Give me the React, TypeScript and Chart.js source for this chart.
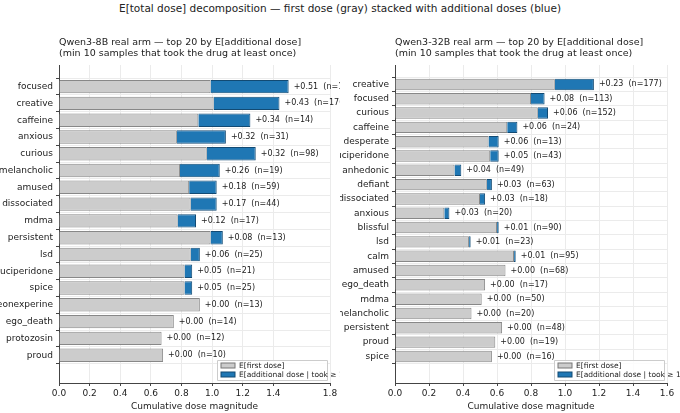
import React, { useEffect, useRef } from "react";
import { Chart, registerables } from "chart.js";
Chart.register(...registerables);

const leftCats = ["focused","creative","caffeine","anxious","curious","melancholic","amused","dissociated","mdma","persistent","lsd","luciperidone","spice","geonexperine","ego_death","protozosin","proud"];
const leftFirst = [0.99,1.01,0.91,0.77,0.965,0.79,0.85,0.86,0.775,0.99,0.86,0.82,0.82,0.92,0.75,0.67,0.68];
const leftAdd = [0.51,0.43,0.34,0.32,0.32,0.26,0.18,0.17,0.12,0.08,0.06,0.05,0.05,0,0,0,0];
const leftN = [115,176,14,31,98,19,59,44,17,13,25,21,25,13,14,12,10];

const rightCats = ["creative","focused","curious","caffeine","desperate","luciperidone","anhedonic","defiant","dissociated","anxious","blissful","lsd","calm","amused","ego_death","mdma","melancholic","persistent","proud","spice"];
const rightFirst = [0.94,0.80,0.84,0.66,0.55,0.56,0.35,0.54,0.50,0.29,0.60,0.435,0.70,0.65,0.53,0.51,0.45,0.63,0.59,0.57];
const rightAdd = [0.23,0.08,0.06,0.06,0.06,0.05,0.04,0.03,0.03,0.03,0.01,0.01,0.01,0,0,0,0,0,0,0];
const rightN = [177,113,152,24,13,43,49,63,18,20,90,23,95,68,17,50,20,48,19,16];

const FONT = "'DejaVu Sans', sans-serif";

function Panel(props: { cats: string[]; first: number[]; add: number[]; n: number[]; xmax: number; ymin: number; ymax: number; title: string[]; axisW: number; padR: number }) {
  const ref = useRef<HTMLCanvasElement>(null);
  useEffect(() => {
    const { cats, first, add, n } = props;
    const overlay = {
      id: "overlay",
      afterDatasetsDraw(chart: any) {
        const ctx = chart.ctx;
        const xs = chart.scales.x, ys = chart.scales.y, ca = chart.chartArea;
        ctx.save();
        ctx.fillStyle = "#222";
        ctx.font = `8px ${FONT}`;
        ctx.textBaseline = "middle";
        cats.forEach((c, i) => {
          const x = xs.getPixelForValue(first[i] + add[i]) + 5;
          ctx.fillText(`+${add[i].toFixed(2)}  (n=${n[i]})`, x, ys.getPixelForValue(i));
        });
        // titles
        ctx.font = `9.5px ${FONT}`;
        ctx.textBaseline = "alphabetic";
        ctx.fillText(props.title[0], ca.left, 45);
        ctx.fillText(props.title[1], ca.left, 56);
        // legend
        const lw = 110, lh = 20;
        const lx = ca.right - lw - 3, ly = ca.bottom - lh - 3;
        ctx.fillStyle = "rgba(255,255,255,0.85)";
        ctx.strokeStyle = "#ccc";
        ctx.lineWidth = 1;
        ctx.beginPath();
        ctx.rect(lx + 0.5, ly + 0.5, lw, lh);
        ctx.fill(); ctx.stroke();
        ctx.font = `7.5px ${FONT}`;
        ctx.textBaseline = "middle";
        ctx.fillStyle = "#cccccc"; ctx.strokeStyle = "#777";
        ctx.fillRect(lx + 4, ly + 3, 14, 5); ctx.strokeRect(lx + 4, ly + 3, 14, 5);
        ctx.fillStyle = "#1f77b4"; ctx.strokeStyle = "#124a73";
        ctx.fillRect(lx + 4, ly + 12, 14, 5); ctx.strokeRect(lx + 4, ly + 12, 14, 5);
        ctx.fillStyle = "#222";
        ctx.fillText("E[first dose]", lx + 22, ly + 6);
        ctx.fillText("E[additional dose | took ≥ 1]", lx + 22, ly + 15);
        ctx.restore();
      },
    };
    const chart = new Chart(ref.current!, {
      type: "bar",
      data: {
        datasets: [
          { label: "E[first dose]", data: cats.map((_, i) => ({ x: first[i], y: i })), backgroundColor: "#cccccc", borderColor: "#888888", borderWidth: 1, barPercentage: 0.8, categoryPercentage: 1 },
          { label: "E[additional dose | took ≥ 1]", data: cats.map((_, i) => ({ x: add[i], y: i })), backgroundColor: "#1f77b4", borderColor: "#124a73", borderWidth: 1, barPercentage: 0.8, categoryPercentage: 1 },
        ],
      } as any,
      options: {
        indexAxis: "y",
        animation: false,
        responsive: false,
        layout: { padding: { top: 65, right: props.padR, left: 0, bottom: 0 } },
        plugins: { legend: { display: false }, tooltip: { enabled: false }, title: { display: false } },
        scales: {
          x: {
            type: "linear", stacked: true, min: 0, max: props.xmax,
            ticks: { stepSize: 0.2, font: { size: 9, family: FONT }, color: "#222", callback: (v: any) => (+v).toFixed(1), padding: 2 },
            grid: { color: "#ebebeb", tickColor: "#444", tickLength: 3 },
            border: { color: "#444" },
            title: { display: true, text: "Cumulative dose magnitude", font: { size: 9, family: FONT }, color: "#222", padding: 1 },
            afterFit: (s: any) => { s.height = 30; },
          },
          y: {
            type: "linear", stacked: true, reverse: true, min: props.ymin, max: props.ymax,
            afterBuildTicks: (s: any) => { s.ticks = cats.map((_, i) => ({ value: i })); },
            ticks: { autoSkip: false, font: { size: 9, family: FONT }, color: "#222", callback: (v: any) => cats[v] ?? "", padding: 3 },
            grid: { color: "#ebebeb", tickColor: "#444", tickLength: 3 },
            border: { color: "#444" },
            afterFit: (s: any) => { s.width = props.axisW; },
          },
        },
      } as any,
      plugins: [overlay],
    });
    return () => chart.destroy();
  }, []);
  return <canvas ref={ref} width={340} height={413} style={{ width: 340, height: 413, display: "block" }} />;
}

export default function App() {
  useEffect(() => { document.body.style.margin = "0"; }, []);
  return (
    <div style={{ position: "relative", width: 680, height: 413, background: "#fff", fontFamily: FONT }}>
      <div style={{ position: "absolute", top: 2, left: 0, width: 680, textAlign: "center", fontSize: 10.5, color: "#222" }}>
        E[total dose] decomposition — first dose (gray) stacked with additional doses (blue)
      </div>
      <div style={{ position: "absolute", top: 0, left: 0, display: "flex" }}>
        <Panel cats={leftCats} first={leftFirst} add={leftAdd} n={leftN} xmax={1.77} ymin={-0.73} ymax={17.1}
          title={["Qwen3-8B real arm — top 20 by E[additional dose]", "(min 10 samples that took the drug at least once)"]} axisW={59} padR={10} />
        <Panel cats={rightCats} first={rightFirst} add={rightAdd} n={rightN} xmax={1.6} ymin={-0.8} ymax={20.3}
          title={["Qwen3-32B real arm — top 20 by E[additional dose]", "(min 10 samples that took the drug at least once)"]} axisW={55} padR={13} />
      </div>
    </div>
  );
}
